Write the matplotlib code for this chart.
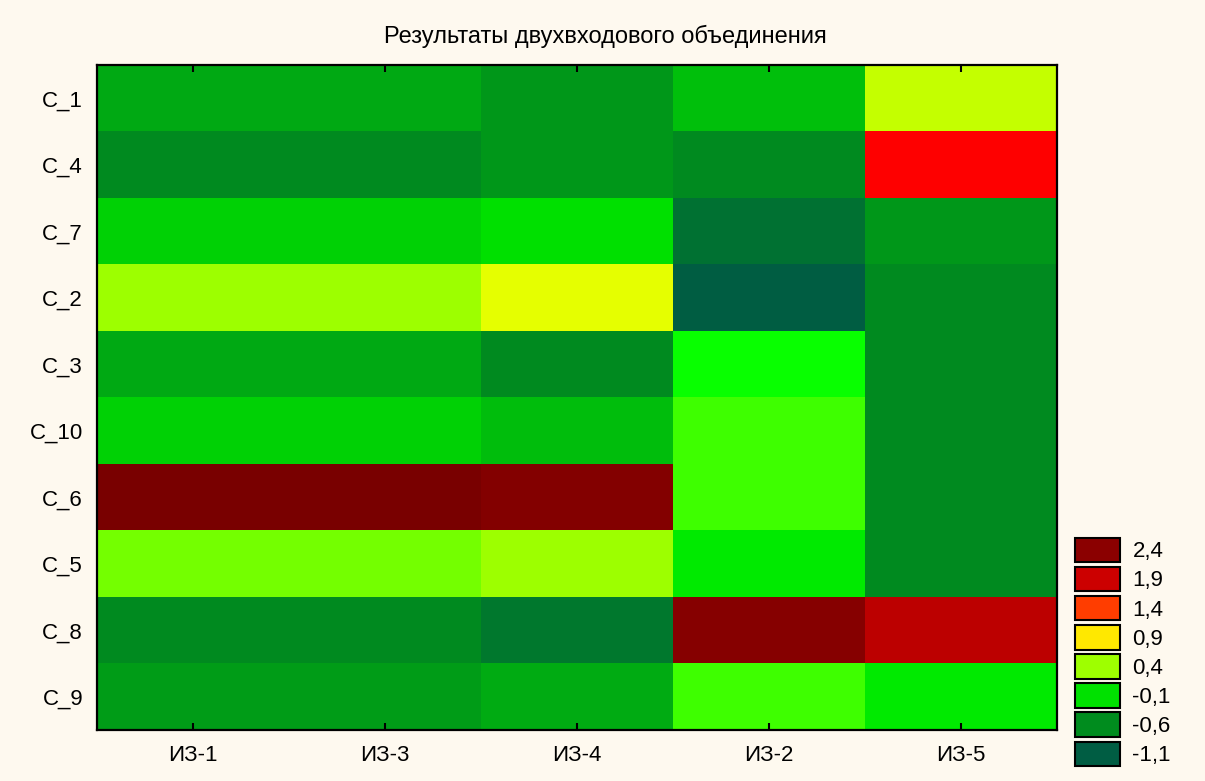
import numpy as np
import matplotlib
matplotlib.use("Agg")
import matplotlib.pyplot as plt
from matplotlib.colors import LinearSegmentedColormap, Normalize
from matplotlib.patches import Patch

# ---- data ----
rows = ["C_1", "C_4", "C_7", "C_2", "C_3", "C_10", "C_6", "C_5", "C_8", "C_9"]
cols = ["ИЗ-1", "ИЗ-3", "ИЗ-4", "ИЗ-2", "ИЗ-5"]
v_C1 = [-0.42, -0.42, -0.52, -0.29, 0.51]
v_C4 = [-0.61, -0.61, -0.52, -0.61, 1.60]
v_C7 = [-0.18, -0.18, -0.10, -0.88, -0.52]
v_C2 = [0.40, 0.40, 0.62, -1.10, -0.61]
v_C3 = [-0.42, -0.42, -0.61, 0.03, -0.61]
v_C10 = [-0.18, -0.18, -0.30, 0.16, -0.61]
v_C6 = [2.58, 2.58, 2.48, 0.16, -0.61]
v_C5 = [0.29, 0.29, 0.40, -0.06, -0.61]
v_C8 = [-0.61, -0.61, -0.80, 2.44, 2.01]
v_C9 = [-0.49, -0.49, -0.40, 0.16, -0.06]
levels = [2.4, 1.9, 1.4, 0.9, 0.4, -0.1, -0.6, -1.1]
level_labels = ["2,4", "1,9", "1,4", "0,9", "0,4", "-0,1", "-0,6", "-1,1"]

data = np.array([v_C1, v_C4, v_C7, v_C2, v_C3, v_C10, v_C6, v_C5, v_C8, v_C9])

# ---- colour scale ----
vmin, vmax = -1.2, 2.6
nodes = [(-1.2, "#005848"), (-1.1, "#005E42"), (-0.6, "#008C1E"), (-0.1, "#00E000"),
         (0.0, "#00FF00"), (0.4, "#A0FF00"), (0.7, "#FFFF00"), (0.9, "#FFE800"),
         (1.4, "#FF4000"), (1.6, "#FF0000"), (1.9, "#CC0000"), (2.4, "#8C0000"),
         (2.6, "#780000")]
cmap = LinearSegmentedColormap.from_list(
    "stat", [((v - vmin) / (vmax - vmin), c) for v, c in nodes])
norm = Normalize(vmin=vmin, vmax=vmax)

bg = "#FEF9EF"
plt.rcParams["font.family"] = ["Liberation Sans", "DejaVu Sans"]

fig = plt.figure(figsize=(12.05, 7.81), dpi=100, facecolor=bg)
ax = fig.add_axes([97 / 1205, 1 - 730 / 781, 960 / 1205, 665 / 781])
ax.imshow(data, cmap=cmap, norm=norm, aspect="auto", interpolation="nearest")

ax.set_xticks(np.arange(len(cols)))
ax.set_xticklabels(cols, fontsize=16)
ax.set_yticks(np.arange(len(rows)))
ax.set_yticklabels(rows, fontsize=16)
ax.tick_params(axis="y", which="major", length=0, pad=10)
ax.set_yticks(np.arange(0, len(rows), 2), minor=True)
ax.tick_params(axis="y", which="minor", direction="in", length=5, width=1.5,
               left=True, right=True)
ax.tick_params(axis="x", which="major", direction="in", length=5, width=1.5,
               top=True, bottom=True, pad=11)
for s in ax.spines.values():
    s.set_linewidth(1.6)
    s.set_color("black")

fig.text(0.502, 1 - 36 / 781, "Результаты двухвходового объединения",
         ha="center", va="center", fontsize=17)

handles = [Patch(facecolor=cmap(norm(v)), edgecolor="black", linewidth=1.5)
           for v in levels]
fig.legend(handles, level_labels, loc="upper left",
           bbox_to_anchor=(1068 / 1205, 1 - 531 / 781), frameon=False,
           fontsize=16, handlelength=2.05, handleheight=1.32,
           labelspacing=0.2, handletextpad=0.55, borderaxespad=0,
           borderpad=0.3)

fig.savefig("out.png", dpi=100, facecolor=bg)
